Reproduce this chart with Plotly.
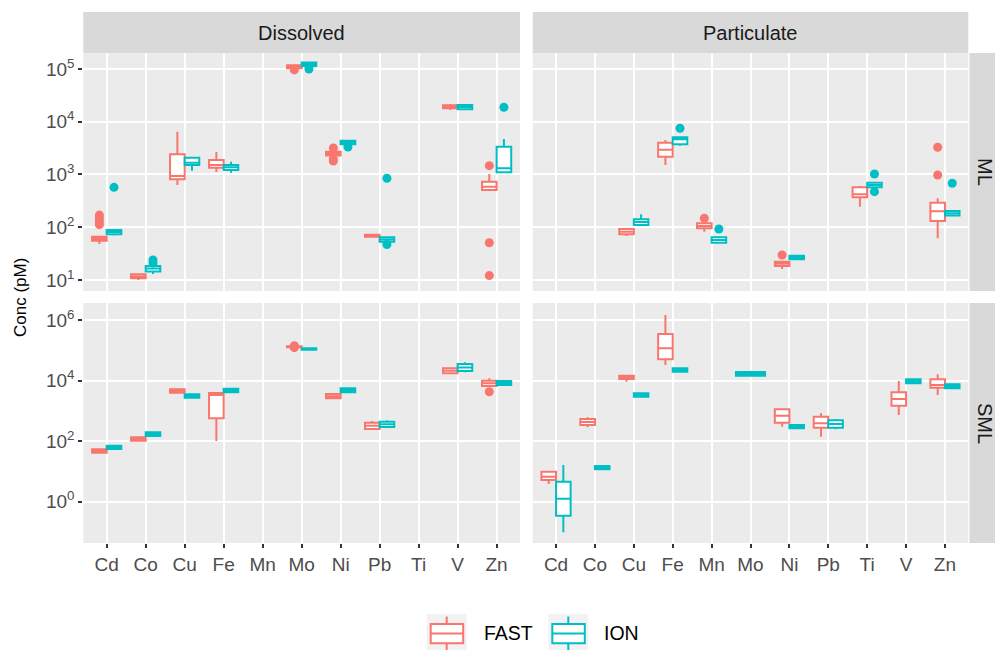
import plotly.graph_objects as go

N = None
elements = ["Cd", "Co", "Cu", "Fe", "Mn", "Mo", "Ni", "Pb", "Ti", "V", "Zn"]
groups = ["FAST", "ION"]

# ---- Dissolved / ML ----
dis_ml_fast_lo  = [48,   10,   632,  1114, N, 100000, 2240, 64,   N, 16700, 508]
dis_ml_fast_q1  = [55.6, 10.8, 811,  1346, N, 103000, 2300, 66,   N, 18000, 508]
dis_ml_fast_med = [60.7, 11.7, 937,  1514, N, 108000, 2470, 69,   N, 19000, 587]
dis_ml_fast_q3  = [66,   12.8, 2415, 1884, N, 118000, 2700, 72,   N, 20500, 731]
dis_ml_fast_hi  = [68,   13.4, 6470, 2673, N, 122000, 2750, 74,   N, 21700, 1021]
dis_ml_fast_out = {"Cd": [112, 130, 150, 170], "Mo": [96000], "Ni": [1800, 1970, 3180], "Zn": [12.1, 50.9, 1468]}

dis_ml_ion_lo  = [70,   13,   1180, 1081, N, 110000, 3740, 53.2, N, 17200, 1100]
dis_ml_ion_q1  = [73.5, 14.4, 1514, 1217, N, 114000, 3740, 53.2, N, 17200, 1100]
dis_ml_ion_med = [81,   16.5, 1675, 1369, N, 122000, 4045, 58.6, N, 19000, 1312]
dis_ml_ion_q3  = [88.7, 18.4, 2080, 1514, N, 132000, 4375, 64.5, N, 20800, 3365]
dis_ml_ion_hi  = [90,   19,   2175, 1750, N, 137000, 4500, 65,   N, 21700, 4710]
dis_ml_ion_out = {"Cd": [571], "Co": [21, 23.9], "Mo": [100000], "Ni": [3320], "Pb": [47, 847], "Zn": [18800]}

# ---- Particulate / ML ----
par_ml_fast_lo  = [N, N, 68.2, 1514, 82.5,  N, 16.2, N, 245, N, 61.7]
par_ml_fast_q1  = [N, N, 73.6, 2175, 95.5,  N, 18.4, N, 370, N, 131]
par_ml_fast_med = [N, N, 82.5, 2950, 105.7, N, 20.4, N, 421, N, 200]
par_ml_fast_q3  = [N, N, 92.7, 4010, 118.9, N, 22.2, N, 571, N, 292]
par_ml_fast_hi  = [N, N, 96.8, 4506, 118.9, N, 22.2, N, 605, N, 354]
par_ml_fast_out = {"Mn": [148], "Ni": [29.8], "Zn": [979, 3282]}

par_ml_ion_lo  = [N, N, 110.4, 3515, 50.9, N, 24.7, N, 571, N, 166]
par_ml_ion_q1  = [N, N, 110.4, 3740, 50.9, N, 24.7, N, 571, N, 166]
par_ml_ion_med = [N, N, 125.9, 4645, 57.3, N, 26.7, N, 632, N, 184]
par_ml_ion_q3  = [N, N, 141.6, 5070, 64.5, N, 28.9, N, 700, N, 203]
par_ml_ion_hi  = [N, N, 176,   5070, 64.5, N, 28.9, N, 700, N, 203]
par_ml_ion_out = {"Fe": [7515], "Mn": [92.7], "Ti": [472, 1021], "Zn": [681]}

# ---- Dissolved / SML ----
dis_sml_fast_lo  = [41.5, 103,   3975, 100.9, N, 125000, 2594, 251, N, 17400, 6610]
dis_sml_fast_q1  = [41.5, 103,   3975, 567,   N, 125000, 2594, 251, N, 17400, 6610]
dis_sml_fast_med = [47.2, 117.5, 4520, 3335,  N, 131000, 3040, 321, N, 21000, 8110]
dis_sml_fast_q3  = [53.7, 133.6, 5140, 3900,  N, 137000, 3600, 405, N, 25400, 9890]
dis_sml_fast_hi  = [53.7, 133.6, 5140, 3975,  N, 137000, 3600, 462, N, 25400, 11900]
dis_sml_fast_out = {"Mo": [122000, 142000], "Zn": [4290]}

dis_sml_ion_lo  = [55,   147.5, 2718, 4095, N, 100000, 4095, 277, N, 18700, 7130]
dis_sml_ion_q1  = [55,   147.5, 2718, 4095, N, 104000, 4095, 292, N, 20700, 7130]
dis_sml_ion_med = [62.5, 169,   3090, 4700, N, 110000, 4770, 359, N, 27000, 8320]
dis_sml_ion_q3  = [70.6, 195,   3515, 5380, N, 117000, 5550, 438, N, 35200, 9680]
dis_sml_ion_hi  = [70.6, 195,   3515, 5380, N, 120000, 5550, 486, N, 40000, 9680]
dis_sml_ion_out = {}

# ---- Particulate / SML ----
par_sml_fast_lo  = [3.84, 286, 9170,  32700,   N, N, 299,  140, N, 730,  3335]
par_sml_fast_q1  = [5.2,  341, 11300, 50400,   N, N, 405,  277, N, 1479, 5800]
par_sml_fast_med = [6.68, 428, 12800, 116000,  N, N, 691,  388, N, 2460, 7130]
par_sml_fast_q3  = [9.77, 538, 14500, 345000,  N, N, 1125, 641, N, 4095, 11000]
par_sml_fast_hi  = [10.5, 612, 14500, 1460000, N, N, 1213, 830, N, 9660, 16100]
par_sml_fast_out = {}

par_sml_ion_lo  = [0.0975, 11.7, 2932, 19600, N, 14500, 265, 245, N, 8130,  5550]
par_sml_ion_q1  = [0.344,  11.7, 2932, 19600, N, 14500, 265, 277, N, 8130,  5550]
par_sml_ion_med = [1.25,   13.3, 3335, 22300, N, 16700, 299, 367, N, 9460,  6470]
par_sml_ion_q3  = [4.57,   15.1, 3793, 25400, N, 19200, 340, 488, N, 11000, 7520]
par_sml_ion_hi  = [16.3,   15.1, 3793, 25400, N, 19200, 340, 538, N, 11000, 7520]
par_sml_ion_out = {}

top_ticks = [10, 100, 1000, 10000, 100000]
top_ticktext = ["10<sup>1</sup>", "10<sup>2</sup>", "10<sup>3</sup>", "10<sup>4</sup>", "10<sup>5</sup>"]
bot_ticks = [1, 100, 10000, 1000000]
bot_ticktext = ["10<sup>0</sup>", "10<sup>2</sup>", "10<sup>4</sup>", "10<sup>6</sup>"]

colors = {"FAST": "#F8766D", "ION": "#00BFC4"}

panels = [
    ("x", "y", {
        "FAST": (dis_ml_fast_lo, dis_ml_fast_q1, dis_ml_fast_med, dis_ml_fast_q3, dis_ml_fast_hi, dis_ml_fast_out),
        "ION": (dis_ml_ion_lo, dis_ml_ion_q1, dis_ml_ion_med, dis_ml_ion_q3, dis_ml_ion_hi, dis_ml_ion_out)}),
    ("x2", "y2", {
        "FAST": (par_ml_fast_lo, par_ml_fast_q1, par_ml_fast_med, par_ml_fast_q3, par_ml_fast_hi, par_ml_fast_out),
        "ION": (par_ml_ion_lo, par_ml_ion_q1, par_ml_ion_med, par_ml_ion_q3, par_ml_ion_hi, par_ml_ion_out)}),
    ("x3", "y3", {
        "FAST": (dis_sml_fast_lo, dis_sml_fast_q1, dis_sml_fast_med, dis_sml_fast_q3, dis_sml_fast_hi, dis_sml_fast_out),
        "ION": (dis_sml_ion_lo, dis_sml_ion_q1, dis_sml_ion_med, dis_sml_ion_q3, dis_sml_ion_hi, dis_sml_ion_out)}),
    ("x4", "y4", {
        "FAST": (par_sml_fast_lo, par_sml_fast_q1, par_sml_fast_med, par_sml_fast_q3, par_sml_fast_hi, par_sml_fast_out),
        "ION": (par_sml_ion_lo, par_sml_ion_q1, par_sml_ion_med, par_sml_ion_q3, par_sml_ion_hi, par_sml_ion_out)}),
]

DODGE = 0.75
fig = go.Figure()

for xa, ya, data in panels:
    for gi, g in enumerate(groups):
        lo, q1, med, q3, hi, outs = data[g]
        paired = {"x": [], "lo": [], "q1": [], "med": [], "q3": [], "hi": []}
        single = {"x": [], "lo": [], "q1": [], "med": [], "q3": [], "hi": []}
        pos_of = {}
        for i, el in enumerate(elements):
            if med[i] is None:
                continue
            n_present = sum(1 for gg in groups if data[gg][2][i] is not None)
            if n_present == 2:
                pos = i + (gi - 0.5) * DODGE / 2
                tgt = paired
            else:
                pos = i
                tgt = single
            pos_of[el] = pos
            tgt["x"].append(pos)
            tgt["lo"].append(lo[i]); tgt["q1"].append(q1[i]); tgt["med"].append(med[i])
            tgt["q3"].append(q3[i]); tgt["hi"].append(hi[i])
        for tgt, w in ((paired, DODGE / 2), (single, DODGE)):
            if not tgt["x"]:
                continue
            fig.add_trace(go.Box(
                x=tgt["x"], q1=tgt["q1"], median=tgt["med"], q3=tgt["q3"],
                lowerfence=tgt["lo"], upperfence=tgt["hi"],
                width=w, name=g, legendgroup=g, showlegend=False,
                fillcolor="white", line=dict(color=colors[g], width=2),
                whiskerwidth=0, boxpoints=False,
                xaxis=xa, yaxis=ya))
        ox, oy = [], []
        for el, vals in outs.items():
            for v in vals:
                ox.append(pos_of[el]); oy.append(v)
        if ox:
            fig.add_trace(go.Scatter(
                x=ox, y=oy, mode="markers", marker=dict(color=colors[g], size=9),
                showlegend=False, legendgroup=g, xaxis=xa, yaxis=ya))

W, H = 995, 650
def px_x(p): return p / W
def px_y(p): return 1 - p / H

xl = [px_x(83.3), px_x(520)]
xr = [px_x(532.7), px_x(968.3)]
yt = [px_y(291), px_y(53)]
yb = [px_y(543), px_y(303)]

tickfont = dict(size=19, color="#4D4D4D")
common_x = dict(range=[-0.6, 10.6], tickvals=list(range(len(elements))), ticktext=elements,
                showgrid=True, gridcolor="white", gridwidth=2, zeroline=False, showline=False,
                tickfont=tickfont)
common_y = dict(type="log", showgrid=True, gridcolor="white", gridwidth=2, zeroline=False,
                showline=False, tickfont=tickfont)

fig.update_layout(
    width=W, height=H,
    margin=dict(l=0, r=0, t=0, b=0),
    paper_bgcolor="white", plot_bgcolor="#EBEBEB",
    font=dict(family="Liberation Sans, Arial, sans-serif", color="#1A1A1A"),
    boxmode="overlay",
    showlegend=False,
    xaxis=dict(domain=xl, anchor="y", showticklabels=False, ticks="", **common_x),
    xaxis2=dict(domain=xr, anchor="y2", showticklabels=False, ticks="", **common_x),
    xaxis3=dict(domain=xl, anchor="y3", ticks="outside", ticklen=4, tickwidth=1.5, tickcolor="#333333", **common_x),
    xaxis4=dict(domain=xr, anchor="y4", ticks="outside", ticklen=4, tickwidth=1.5, tickcolor="#333333", **common_x),
    yaxis=dict(domain=yt, anchor="x", range=[0.791, 5.303], tickvals=top_ticks, ticktext=top_ticktext,
               ticks="outside", ticklen=4, tickwidth=1.5, tickcolor="#333333", **common_y),
    yaxis2=dict(domain=yt, anchor="x2", range=[0.791, 5.303], tickvals=top_ticks, showticklabels=False, ticks="", **common_y),
    yaxis3=dict(domain=yb, anchor="x3", range=[-1.363, 6.561], tickvals=bot_ticks, ticktext=bot_ticktext,
                ticks="outside", ticklen=4, tickwidth=1.5, tickcolor="#333333", **common_y),
    yaxis4=dict(domain=yb, anchor="x4", range=[-1.363, 6.561], tickvals=bot_ticks, showticklabels=False, ticks="", **common_y),
)

shapes = []
annotations = []
strip_col = "#D9D9D9"
strip_font = dict(size=20, color="#1A1A1A")
for dom, label in ((xl, "Dissolved"), (xr, "Particulate")):
    shapes.append(dict(type="rect", xref="paper", yref="paper", x0=dom[0], x1=dom[1],
                       y0=px_y(53), y1=px_y(12), fillcolor=strip_col, line=dict(width=0), layer="below"))
    annotations.append(dict(text=label, xref="paper", yref="paper", x=(dom[0] + dom[1]) / 2,
                            y=px_y(32.5), showarrow=False, font=strip_font,
                            xanchor="center", yanchor="middle"))
for dom, label in ((yt, "ML"), (yb, "SML")):
    shapes.append(dict(type="rect", xref="paper", yref="paper", x0=px_x(969.5), x1=1.0,
                       y0=dom[0], y1=dom[1], fillcolor=strip_col, line=dict(width=0), layer="below"))
    annotations.append(dict(text=label, xref="paper", yref="paper", x=px_x(985),
                            y=(dom[0] + dom[1]) / 2, showarrow=False, textangle=90,
                            font=strip_font, xanchor="center", yanchor="middle"))
annotations.append(dict(text="Conc (pM)", xref="paper", yref="paper", x=px_x(20), y=px_y(298),
                        showarrow=False, textangle=-90, font=dict(size=17, color="#000000"),
                        xanchor="center", yanchor="middle"))

# legend (ggplot-style keys)
legend_items = [("FAST", 426.7, 481.7), ("ION", 548.3, 601.7)]
for g, kx, tx in legend_items:
    c = colors[g]
    shapes.append(dict(type="rect", xref="paper", yref="paper", x0=px_x(kx), x1=px_x(kx + 40),
                       y0=px_y(650), y1=px_y(614), fillcolor="#F2F2F2", line=dict(width=0)))
    cx = kx + 20
    shapes.append(dict(type="line", xref="paper", yref="paper", x0=px_x(cx), x1=px_x(cx),
                       y0=px_y(616.5), y1=px_y(624), line=dict(color=c, width=2)))
    shapes.append(dict(type="line", xref="paper", yref="paper", x0=px_x(cx), x1=px_x(cx),
                       y0=px_y(643.3), y1=px_y(650), line=dict(color=c, width=2)))
    shapes.append(dict(type="rect", xref="paper", yref="paper", x0=px_x(kx + 4), x1=px_x(kx + 36.5),
                       y0=px_y(643.3), y1=px_y(624), fillcolor="white", line=dict(color=c, width=2)))
    shapes.append(dict(type="line", xref="paper", yref="paper", x0=px_x(kx + 4), x1=px_x(kx + 36.5),
                       y0=px_y(633.5), y1=px_y(633.5), line=dict(color=c, width=2)))
    annotations.append(dict(text=g, xref="paper", yref="paper", x=px_x(tx), y=px_y(633),
                            showarrow=False, font=dict(size=19.5, color="#000000"),
                            xanchor="left", yanchor="middle"))

fig.update_layout(shapes=shapes, annotations=annotations)

fig.write_html("out.html", config={"displayModeBar": False},
               post_script="document.body.style.margin='0';document.body.style.padding='0';document.body.style.overflow='hidden';")
